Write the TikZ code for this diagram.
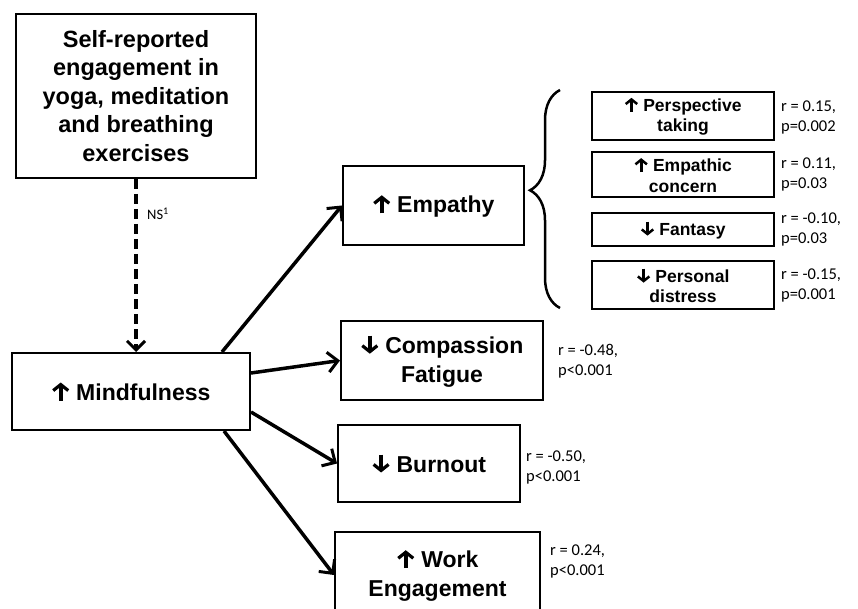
\documentclass[tikz,border=0pt]{standalone}
\usepackage{fontspec}
\setmainfont{Liberation Sans}
\newfontfamily\calib{Carlito}
\usetikzlibrary{arrows.meta,decorations.pathreplacing}
\newcommand{\mkarr}[3]{\tikz[baseline=0pt,x=1pt,y=1pt]\draw[line width=#2,-{Straight Barb[length=#3*0.45,width=#3,line width=#2]}] (0,#1) -- (0,0);}
\newcommand{\uparr}{\tikz[baseline=0pt,x=1pt,y=1pt]\draw[line width=3.6pt,line cap=butt,-{Straight Barb[length=6pt,width=15pt,line width=3.2pt]}] (0,-0.5) -- (0,17.5);}
\newcommand{\dnarr}{\tikz[baseline=0pt,x=1pt,y=1pt]\draw[line width=3.6pt,line cap=butt,-{Straight Barb[length=6pt,width=15pt,line width=3.2pt]}] (0,17.5) -- (0,-0.5);}
\newcommand{\uparrs}{\tikz[baseline=0pt,x=1pt,y=1pt]\draw[line width=2.8pt,line cap=butt,-{Straight Barb[length=4.6pt,width=11.5pt,line width=2.5pt]}] (0,-0.5) -- (0,13.5);}
\newcommand{\dnarrs}{\tikz[baseline=0pt,x=1pt,y=1pt]\draw[line width=2.8pt,line cap=butt,-{Straight Barb[length=4.6pt,width=11.5pt,line width=2.5pt]}] (0,13.5) -- (0,-0.5);}
\begin{document}
\begin{tikzpicture}[x=1pt,y=-1pt,
  box/.style={draw,line width=2pt,align=center,font=\bfseries\fontsize{23}{29}\selectfont,inner sep=0pt},
  sub/.style={draw,line width=2pt,align=center,font=\bfseries\fontsize{17.5}{20.5}\selectfont,inner sep=0pt,minimum width=182pt},
  stat/.style={align=left,anchor=west,font=\calib\fontsize{16.5}{20}\selectfont,inner sep=0pt},
  arr/.style={line width=3.5pt,-{Straight Barb[length=10pt,width=20pt,line width=3pt]}}]
\useasboundingbox (0,0) rectangle (858,609);
\node[box,minimum width=240pt,minimum height=164pt,font=\bfseries\fontsize{23.5}{28.5}\selectfont] (top) at (136,96)
  {Self-reported\\engagement in\\yoga, meditation\\and breathing\\exercises};
\node[box,minimum width=238pt,minimum height=77pt] (mind) at (131,391.5) {\uparr\ Mindfulness};
\node[box,minimum width=181pt,minimum height=79pt] (emp) at (433.5,205.5) {\uparr\ Empathy};
\node[box,minimum width=202pt,minimum height=79pt] (comp) at (442,360.5) {\dnarr\ Compassion\\Fatigue};
\node[box,minimum width=182pt,minimum height=77pt] (burn) at (429,463.5) {\dnarr\ Burnout};
\node[box,minimum width=205pt,minimum height=86pt] (work) at (437.5,575) {\uparr\ Work\\Engagement};
\node[sub,minimum height=48pt] (pt) at (683,116) {\uparrs\ Perspective\\taking};
\node[sub,minimum height=45pt] (ec) at (683,174.5) {\uparrs\ Empathic\\concern};
\node[sub,minimum height=33pt] (fa) at (683,229.5) {\dnarrs\ Fantasy};
\node[sub,minimum height=48pt] (pd) at (683,285) {\dnarrs\ Personal\\distress};
\node[stat] (s1) at (781,117) {r = 0.15,\\p=0.002};
\node[stat] (s2) at (781,174) {r = 0.11,\\p=0.03};
\node[stat] (s3) at (781,229) {r = -0.10,\\p=0.03};
\node[stat] (s4) at (781,285) {r = -0.15,\\p=0.001};
\node[stat] (s5) at (558,361) {r = -0.48,\\p<0.001};
\node[stat] (s6) at (526,467) {r = -0.50,\\p<0.001};
\node[stat] (s7) at (550,561) {r = 0.24,\\p<0.001};
\node[font=\calib\fontsize{14.5}{16}\selectfont,anchor=west,inner sep=0pt] (ns) at (147,214) {NS\textsuperscript{1}};
\draw[line width=4pt,dash pattern=on 10pt off 5pt,-{Straight Barb[length=9pt,width=18pt,line width=3pt]}]
  (top.south) -- (top.south |- mind.north);
\draw[arr] ([xshift=-29pt]mind.north east) -- (emp.west);
\draw[arr] ([yshift=18.5pt]mind.east) -- (comp.west);
\draw[arr] ([yshift=-20.5pt]mind.east) -- (burn.west);
\draw[arr] ([xshift=-27pt]mind.south east) -- (work.west);
\coordinate (bt) at (560,90);
\coordinate (bb) at (560,308);
\draw[line width=2.5pt,decorate,decoration={brace,amplitude=30pt,aspect=0.54}] (bb) -- (bt);
\end{tikzpicture}
\end{document}
